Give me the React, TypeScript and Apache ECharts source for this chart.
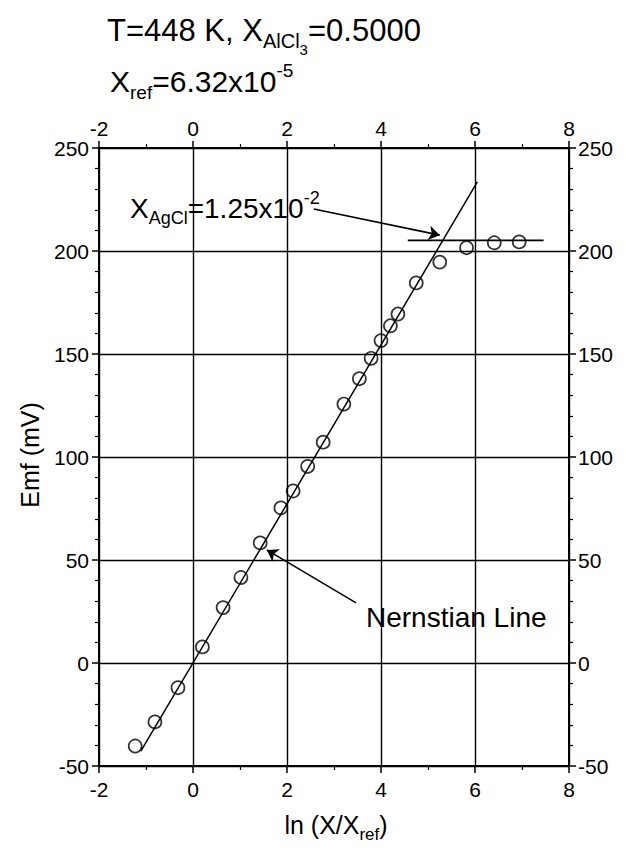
import React, { useEffect, useRef } from 'react';
import * as echarts from 'echarts';

const FONT = '"Liberation Sans", Arial, Helvetica, sans-serif';

// Axis ranges
const xMin = -2;
const xMax = 8;
const xStep = 2;
const yMin = -50;
const yMax = 250;
const yStep = 50;

// Measured points: ln(X/Xref) and Emf (mV)
const lnX = [-1.23, -0.81, -0.32, 0.2, 0.64, 1.02, 1.43, 1.87, 2.13, 2.44, 2.77, 3.21, 3.54, 3.79, 4.0, 4.2, 4.36, 4.75, 5.25, 5.82, 6.41, 6.94];
const emf = [-40.3, -28.6, -12, 7.8, 26.9, 41.5, 58.3, 75.3, 83.5, 95.4, 107.2, 125.7, 138, 147.9, 156.5, 163.7, 169.4, 184.5, 194.6, 201.6, 204, 204.4];

// Nernstian line end points
const nernstLineX = [-1.11, 6.05];
const nernstLineY = [-42.8, 233.5];

// Plateau line (X_AgCl saturation)
const plateauLineX = [4.57, 7.46];
const plateauLineY = [205.2, 205.2];

// Annotation arrows [from, to]
const agclArrow = [[2.57, 220.4], [5.25, 207.7]];
const nernstArrow = [[3.47, 29.2], [1.57, 54.9]];

type Part = { t: string; s: number; dy: number };

const titleLine1: Part[] = [
  { t: 'T=448 K, X', s: 31, dy: 0 },
  { t: 'AlCl', s: 20, dy: 11 },
  { t: '3', s: 15, dy: 19 },
  { t: '=0.5000', s: 31, dy: 0 },
];
const titleLine2: Part[] = [
  { t: 'X', s: 30, dy: 0 },
  { t: 'ref', s: 19, dy: 11 },
  { t: '=6.32x10', s: 30, dy: 0 },
  { t: '-5', s: 19, dy: -11 },
];
const agclLabel: Part[] = [
  { t: 'X', s: 28, dy: 0 },
  { t: 'AgCl', s: 18, dy: 10 },
  { t: '=1.25x10', s: 28, dy: 0 },
  { t: '-2', s: 18, dy: -10 },
];
const nernstLabel: Part[] = [{ t: 'Nernstian Line', s: 28, dy: 0 }];
const xName: Part[] = [
  { t: 'ln (X/X', s: 25, dy: 0 },
  { t: 'ref', s: 17, dy: 9 },
  { t: ')', s: 25, dy: 0 },
];
const yName = 'Emf (mV)';

function makeMeasure() {
  const c = document.createElement('canvas');
  const ctx = c.getContext('2d')!;
  return (t: string, s: number) => {
    ctx.font = `${s}px ${FONT}`;
    return ctx.measureText(t).width;
  };
}

function layout(parts: Part[], x0: number, cy: number, measure: (t: string, s: number) => number, centered = false) {
  const total = parts.reduce((a, p) => a + measure(p.t, p.s), 0);
  let x = centered ? x0 - total / 2 : x0;
  const els: any[] = [];
  for (const p of parts) {
    els.push({
      type: 'text',
      x,
      y: cy + p.dy,
      z: 100,
      style: {
        text: p.t,
        font: `${p.s}px ${FONT}`,
        fill: '#000',
        align: 'left',
        verticalAlign: 'middle',
        textAlign: 'left',
        textVerticalAlign: 'middle',
      },
    });
    x += measure(p.t, p.s);
  }
  return els;
}

function axisCommon(position: string, isX: boolean, showSplit: boolean, margin: number) {
  return {
    type: 'value',
    position,
    min: isX ? xMin : yMin,
    max: isX ? xMax : yMax,
    interval: isX ? xStep : yStep,
    axisLine: { show: true, onZero: false, lineStyle: { color: '#000', width: 2 } },
    axisTick: { show: true, inside: false, length: 7, lineStyle: { color: '#000', width: 1.5 } },
    minorTick: { show: true, splitNumber: isX ? 2 : 5, length: 4, lineStyle: { color: '#000', width: 1.2 } },
    splitLine: { show: showSplit, lineStyle: { color: '#000', width: 1.4 } },
    minorSplitLine: { show: false },
    axisLabel: { show: true, color: '#000', fontSize: 21, fontFamily: FONT, margin },
  };
}

export default function App() {
  const ref = useRef<HTMLDivElement>(null);

  useEffect(() => {
    const el = ref.current!;
    const chart = echarts.init(el, null, { renderer: 'svg' });
    const measure = makeMeasure();

    const graphic: any[] = [
      ...layout(titleLine1, 107, 30, measure),
      ...layout(titleLine2, 110, 81, measure),
      ...layout(agclLabel, 130, 208, measure),
      ...layout(nernstLabel, 366, 617, measure),
      ...layout(xName, 336, 825, measure, true),
      {
        type: 'text',
        x: 30,
        y: 455,
        rotation: Math.PI / 2,
        z: 100,
        style: {
          text: yName,
          font: `25px ${FONT}`,
          fill: '#000',
          align: 'center',
          verticalAlign: 'middle',
          textAlign: 'center',
          textVerticalAlign: 'middle',
        },
      },
    ];

    const option: any = {
      animation: false,
      backgroundColor: '#fff',
      grid: { left: 99, right: 57, top: 148, bottom: 87, containLabel: false },
      xAxis: [axisCommon('bottom', true, true, 13), axisCommon('top', true, false, 9)],
      yAxis: [axisCommon('left', false, true, 10), axisCommon('right', false, false, 9)],
      graphic,
      series: [
        {
          type: 'line',
          xAxisIndex: 0,
          yAxisIndex: 0,
          data: nernstLineX.map((x, i) => [x, nernstLineY[i]]),
          showSymbol: false,
          symbol: 'none',
          lineStyle: { color: '#000', width: 1.5 },
          z: 3,
        },
        {
          type: 'line',
          xAxisIndex: 0,
          yAxisIndex: 0,
          data: plateauLineX.map((x, i) => [x, plateauLineY[i]]),
          showSymbol: false,
          symbol: 'none',
          lineStyle: { color: '#000', width: 1.8 },
          z: 3,
        },
        {
          type: 'lines',
          coordinateSystem: 'cartesian2d',
          xAxisIndex: 0,
          yAxisIndex: 0,
          symbol: ['none', 'arrow'],
          symbolSize: 11,
          lineStyle: { color: '#000', width: 1.6, opacity: 1 },
          data: [{ coords: agclArrow }, { coords: nernstArrow }],
          z: 4,
        },
        {
          type: 'scatter',
          xAxisIndex: 0,
          yAxisIndex: 0,
          data: lnX.map((x, i) => [x, emf[i]]),
          symbol: 'circle',
          symbolSize: 13,
          itemStyle: { color: 'rgba(0,0,0,0)', borderColor: '#000', borderWidth: 1.7 },
          z: 5,
        },
      ],
    };

    chart.setOption(option);
    return () => chart.dispose();
  }, []);

  return (
    <div
      ref={ref}
      style={{ position: 'fixed', left: 0, top: 0, width: 626, height: 853, background: '#fff' }}
    />
  );
}
